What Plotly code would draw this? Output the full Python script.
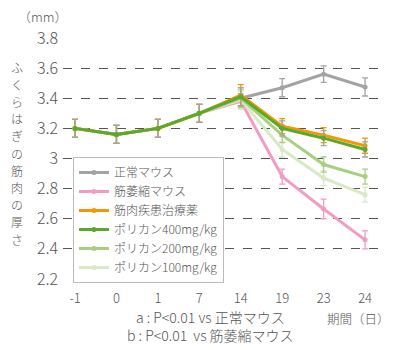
import plotly.graph_objects as go

days = ["-1", "0", "1", "7", "14", "19", "23", "24"]
names = ["正常マウス", "筋萎縮マウス", "筋肉疾患治療薬", "ポリカン400mg/kg", "ポリカン200mg/kg", "ポリカン100mg/kg"]
normal = [3.20, 3.16, 3.20, 3.30, 3.40, 3.47, 3.56, 3.475]
atrophy = [3.20, 3.16, 3.20, 3.30, 3.38, 2.88, 2.665, 2.46]
drug = [3.20, 3.16, 3.20, 3.30, 3.42, 3.215, 3.155, 3.085]
p400 = [3.20, 3.16, 3.20, 3.30, 3.41, 3.20, 3.135, 3.06]
p200 = [3.20, 3.16, 3.20, 3.30, 3.40, 3.155, 2.96, 2.88]
p100 = [3.20, 3.16, 3.20, 3.30, 3.39, 3.06, 2.87, 2.76]
normal_err = [0.06, 0.06, 0.06, 0.06, 0.05, 0.06, 0.055, 0.06]
atrophy_err = [0.06, 0.06, 0.06, 0.06, 0.05, 0.05, 0.065, 0.06]
drug_err = [0.06, 0.06, 0.06, 0.06, 0.07, 0.05, 0.05, 0.05]
p400_err = [0.06, 0.06, 0.06, 0.06, 0.06, 0.05, 0.05, 0.05]
p200_err = [0.06, 0.06, 0.06, 0.06, 0.06, 0.05, 0.05, 0.05]
p100_err = [0.06, 0.06, 0.06, 0.06, 0.06, 0.05, 0.05, 0.05]
y_ticks = [2.2, 2.4, 2.6, 2.8, 3.0, 3.2, 3.4, 3.6, 3.8]
y_tick_labels = ["2.2", "2.4", "2.6", "2.8", "3", "3.2", "3.4", "3.6", "3.8"]
end_labels = ["ab", "ab", "ab", "ab", "a"]
y_title = "ふくらはぎの筋肉の厚さ"
footnotes = ["a : P<0.01 vs 正常マウス", "b : P<0.01  vs 筋萎縮マウス"]

colors = ["#a3a3a3", "#f29cc4", "#f39800", "#58a92c", "#a6d080", "#d7e9c5"]
series = [normal, atrophy, drug, p400, p200, p100]
errs = [normal_err, atrophy_err, drug_err, p400_err, p200_err, p100_err]

FONT = "Noto Sans CJK JP"
TXT = "#555555"
W = 300

fig = go.Figure()
draw_order = [0, 1, 5, 4, 2, 3]
for i in draw_order:
    fig.add_trace(go.Scatter(
        x=days, y=series[i], name=names[i], mode="lines+markers",
        line=dict(color=colors[i], width=3),
        marker=dict(color=colors[i], size=5),
        error_y=dict(type="data", array=errs[i], color=colors[i] if i != 3 else "#a3a3a3",
                     thickness=1.3, width=3),
        legendrank=i + 1,
    ))

# end-of-series significance labels
label_series = [drug, p400, p200, p100, atrophy]
label_shift = [2, -6, -4, -6, -10]
for txt, s, sh in zip(end_labels, label_series, label_shift):
    fig.add_annotation(x=days[-1], y=s[-1], text=txt, showarrow=False,
                       xanchor="left", xshift=8, yshift=sh,
                       font=dict(family=FONT, size=13, color=TXT, weight=W))

# vertical y-axis title, one character per annotation (stacked upright)
step = 17.2
top = 153 - step * (len(y_title) - 1) / 2
for k, ch in enumerate(y_title):
    fig.add_annotation(xref="paper", yref="paper", x=-0.145, y=(279 - (top + k * step)) / 241,
                       text=ch, showarrow=False, xanchor="center", yanchor="middle",
                       font=dict(family=FONT, size=12, color=TXT, weight=W))

fig.add_annotation(xref="paper", yref="paper", x=(43 - 63) / 317, y=(279 - 16) / 241,
                   text="（mm）", showarrow=False, xanchor="center", yanchor="middle",
                   font=dict(family=FONT, size=13, color=TXT, weight=W))
fig.add_annotation(xref="paper", yref="paper", x=(358 - 63) / 317, y=(279 - 318) / 241,
                   text="期間（日）", showarrow=False, xanchor="center", yanchor="middle",
                   font=dict(family=FONT, size=12.5, color=TXT, weight=W))
fig.add_annotation(xref="paper", yref="paper", x=(210 - 63) / 317, y=(279 - 326) / 241,
                   text="<br>".join(footnotes), showarrow=False, xanchor="center", yanchor="middle",
                   align="center",
                   font=dict(family=FONT, size=14, color=TXT, weight=W))

fig.update_layout(
    width=400, height=350,
    margin=dict(l=63, r=20, t=38, b=71),
    paper_bgcolor="white", plot_bgcolor="white",
    font=dict(family=FONT, color=TXT, weight=W),
    showlegend=True,
    legend=dict(x=(73 - 63) / 317, y=(279 - 157) / 241, xanchor="left", yanchor="top",
                bgcolor="white", bordercolor="#bbbbbb", borderwidth=1,
                font=dict(family=FONT, size=12, color=TXT, weight=W), tracegroupgap=0),
    xaxis=dict(type="category", range=[-0.29, 7.36], showgrid=False, zeroline=False,
               showline=False, ticks="", ticklabelstandoff=10,
               tickfont=dict(family=FONT, size=13, color=TXT, weight=W)),
    yaxis=dict(range=[2.2, 3.8], tickvals=y_ticks, ticktext=y_tick_labels,
               showgrid=True, gridcolor="#555555", griddash="dash", gridwidth=1,
               zeroline=False, showline=False, ticks="", ticklabelstandoff=4,
               tickfont=dict(family=FONT, size=16, color=TXT, weight=W)),
)

fig.write_html("out.html")
